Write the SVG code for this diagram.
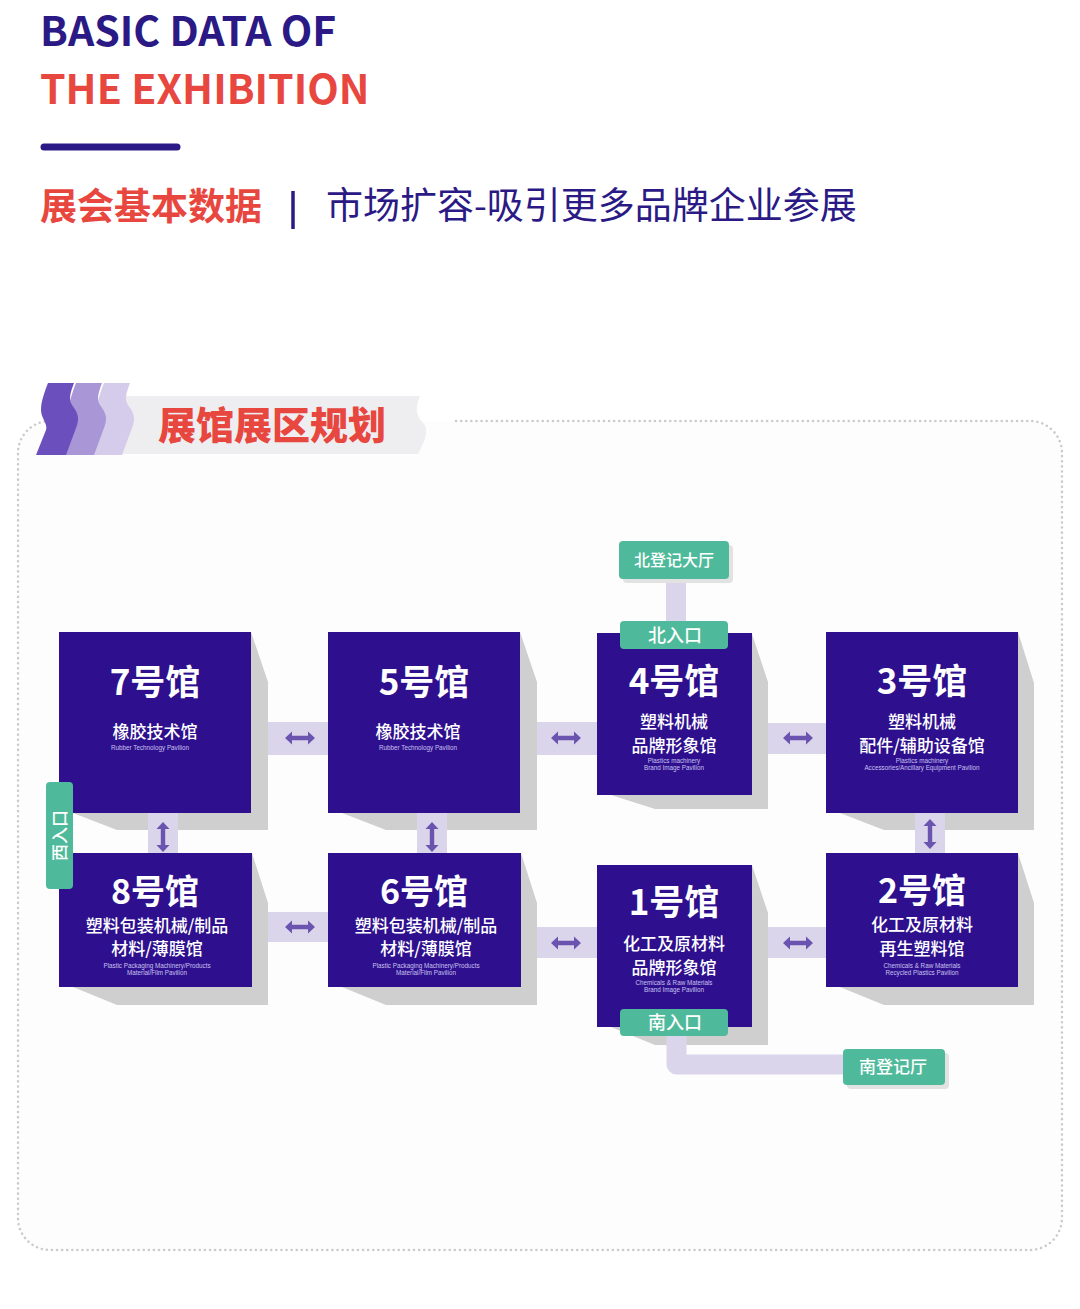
<svg xmlns="http://www.w3.org/2000/svg" width="1080" height="1309" viewBox="0 0 1080 1309">
<defs>
<style>
.cjk{font-family:"Noto Sans CJK SC","Noto Sans",sans-serif}
.hall{fill:#2e108e}
.shadow{fill:#cfcfcf}
.band{fill:#dbd5eb}
.teal{fill:#4fba9b}
.tshadow{fill:#e2e2e2}
.title{font-family:"Noto Sans CJK SC",sans-serif;font-weight:700;font-size:35px;fill:#ffffff;text-anchor:middle}
.title2{font-family:"Noto Sans CJK SC",sans-serif;font-weight:700;font-size:34px;fill:#ffffff;text-anchor:middle}
.sub{font-family:"Noto Sans CJK SC",sans-serif;font-weight:500;font-size:17px;fill:#ffffff;text-anchor:middle}
.en{font-family:"Liberation Sans",Arial,sans-serif;font-size:6.3px;fill:#c9c0ef;text-anchor:middle}
.lbl{font-family:"Noto Sans CJK SC",sans-serif;font-weight:500;fill:#ffffff;text-anchor:middle}
</style>
<path id="arr" d="M-15 0 L-8 -6.5 L-8 -2.2 L8 -2.2 L8 -6.5 L15 0 L8 6.5 L8 2.2 L-8 2.2 L-8 6.5 Z" fill="#6a54b0"/>
<path id="sshape" d="M12 0 H38 C35 8 32 16 36 22 C42 30 44 35 40 45 L30 72 H0 L10 47 C12 41 5 35 5 27 C5 18 9 8 12 0 Z"/>
</defs>

<rect width="1080" height="1309" fill="#ffffff"/>

<!-- header -->
<g id="header">
<text x="40" y="46" class="cjk" font-weight="700" font-size="41" fill="#2b1a85">BASIC DATA OF</text>
<text x="40" y="104" class="cjk" font-weight="700" font-size="41" fill="#e8473f">THE EXHIBITION</text>
<line x1="44" y1="147" x2="177" y2="147" stroke="#2b1a85" stroke-width="7" stroke-linecap="round"/>
<text x="40" y="220" class="cjk" font-weight="700" font-size="37" fill="#e8473f">展会基本数据</text>
<line x1="293" y1="191" x2="293" y2="229" stroke="#2b1a85" stroke-width="3.5"/>
<text x="326" y="219" class="cjk" font-weight="400" font-size="37" fill="#2b1a85">市场扩容-吸引更多品牌企业参展</text>
</g>

<!-- frame -->
<g id="frame">
<rect x="18" y="421" width="1044" height="829" rx="32" fill="#fdfdfd"/>
<path d="M456 421 H1030 A32 32 0 0 1 1062 453 V1218 A32 32 0 0 1 1030 1250 H50 A32 32 0 0 1 18 1218 V453 A32 32 0 0 1 50 421" fill="none" stroke="#cbcbcb" stroke-width="2.5" stroke-dasharray="0.1 5" stroke-linecap="round"/>
</g>

<!-- section banner -->
<g id="banner">
<path d="M100 396 H420 C416 406 414 414 424 424 C430 432 422 446 418 454 H100 Z" fill="#eeeef0"/>
<use href="#sshape" x="92" y="383" fill="#d5cceb"/>
<use href="#sshape" x="64" y="383" fill="#a896d6"/>
<use href="#sshape" x="36" y="383" fill="#6b4fbd"/>
<text x="158" y="439" class="cjk" font-weight="900" font-size="38" fill="#e8473f">展馆展区规划</text>
</g>

<!-- halls -->
<g id="hall7">
<polygon class="shadow" points="251,632 268,682 268,830 117,830 73,813 59,813 59,632"/>
<rect class="hall" x="59" y="632" width="192" height="181"/>
<text class="title" x="155" y="695">7号馆</text>
<text class="sub" x="155" y="738">橡胶技术馆</text>
<text class="en" x="150" y="749.5">Rubber Technology Pavilion</text>
</g>
<g id="hall5">
<polygon class="shadow" points="520,632 537,682 537,830 386,830 342,813 328,813 328,632"/>
<rect class="hall" x="328" y="632" width="192" height="181"/>
<text class="title" x="424" y="695">5号馆</text>
<text class="sub" x="418" y="738">橡胶技术馆</text>
<text class="en" x="418" y="749.5">Rubber Technology Pavilion</text>
</g>
<g id="hall4">
<polygon class="shadow" points="752,634 768,682 768,809 655,809 611,795 597,795 597,634"/>
<rect class="hall" x="597" y="633" width="155" height="162"/>
<text class="title" x="674" y="694">4号馆</text>
<text class="sub" x="674" y="728">塑料机械</text>
<text class="sub" x="674" y="752">品牌形象馆</text>
<text class="en" x="674" y="763">Plastics machinery</text>
<text class="en" x="674" y="770">Brand Image Pavilion</text>
</g>
<g id="hall3">
<polygon class="shadow" points="1018,632 1034,683 1034,830 884,830 840,813 826,813 826,632"/>
<rect class="hall" x="826" y="632" width="192" height="181"/>
<text class="title" x="922" y="694">3号馆</text>
<text class="sub" x="922" y="728">塑料机械</text>
<text class="sub" x="922" y="752">配件/辅助设备馆</text>
<text class="en" x="922" y="763">Plastics machinery</text>
<text class="en" x="922" y="770">Accessories/Ancillary Equipment Pavilion</text>
</g>
<g id="hall8">
<polygon class="shadow" points="252,853 268,903 268,1005 117,1005 73,987 59,987 59,853"/>
<rect class="hall" x="59" y="853" width="193" height="134"/>
<text class="title2" x="155" y="904">8号馆</text>
<text class="sub" x="157" y="932">塑料包装机械/制品</text>
<text class="sub" x="157" y="955">材料/薄膜馆</text>
<text class="en" x="157" y="968">Plastic Packaging Machinery/Products</text>
<text class="en" x="157" y="975">Material/Film Pavilion</text>
</g>
<g id="hall6">
<polygon class="shadow" points="521,853 537,903 537,1005 386,1005 342,987 328,987 328,853"/>
<rect class="hall" x="328" y="853" width="193" height="134"/>
<text class="title2" x="424" y="904">6号馆</text>
<text class="sub" x="426" y="932">塑料包装机械/制品</text>
<text class="sub" x="426" y="955">材料/薄膜馆</text>
<text class="en" x="426" y="968">Plastic Packaging Machinery/Products</text>
<text class="en" x="426" y="975">Material/Film Pavilion</text>
</g>
<g id="hall1">
<polygon class="shadow" points="752,865 768,913 768,1045 655,1045 611,1027 597,1027 597,865"/>
<rect class="hall" x="597" y="865" width="155" height="162"/>
<text class="title" x="674" y="915">1号馆</text>
<text class="sub" x="674" y="950">化工及原材料</text>
<text class="sub" x="674" y="974">品牌形象馆</text>
<text class="en" x="674" y="985">Chemicals &amp; Raw Materials</text>
<text class="en" x="674" y="992">Brand Image Pavilion</text>
</g>
<g id="hall2">
<polygon class="shadow" points="1018,853 1034,903 1034,1005 884,1005 840,987 826,987 826,853"/>
<rect class="hall" x="826" y="853" width="192" height="134"/>
<text class="title2" x="922" y="903">2号馆</text>
<text class="sub" x="922" y="931">化工及原材料</text>
<text class="sub" x="922" y="955">再生塑料馆</text>
<text class="en" x="922" y="967.5">Chemicals &amp; Raw Materials</text>
<text class="en" x="922" y="974.5">Recycled Plastics Pavilion</text>
</g>

<!-- connectors -->
<g id="connectors">
<rect class="band" x="268" y="722" width="60" height="33"/>
<rect class="band" x="537" y="722" width="60" height="33"/>
<rect class="band" x="768" y="723" width="58" height="31"/>
<rect class="band" x="148" y="813" width="30" height="40"/>
<rect class="band" x="417" y="813" width="30" height="40"/>
<rect class="band" x="915" y="813" width="30" height="40"/>
<rect class="band" x="268" y="912" width="60" height="30"/>
<rect class="band" x="537" y="927" width="60" height="31"/>
<rect class="band" x="768" y="927" width="58" height="31"/>
<rect class="band" x="666" y="578" width="20" height="45"/>
<path d="M676.5 1030 V1064.5 H850" fill="none" stroke="#dbd5eb" stroke-width="20" stroke-linejoin="round"/>
<use href="#arr" transform="translate(300 738)"/>
<use href="#arr" transform="translate(566 738)"/>
<use href="#arr" transform="translate(798 738)"/>
<use href="#arr" transform="translate(163 837) rotate(90)"/>
<use href="#arr" transform="translate(432 837) rotate(90)"/>
<use href="#arr" transform="translate(930 834) rotate(90)"/>
<use href="#arr" transform="translate(300 927)"/>
<use href="#arr" transform="translate(566 943)"/>
<use href="#arr" transform="translate(798 943)"/>
</g>

<!-- entrances / registration -->
<g id="north-hall">
<rect class="tshadow" x="623" y="545" width="110" height="38" rx="4"/>
<rect class="teal" x="619" y="541" width="110" height="38" rx="4"/>
<text class="lbl" x="674" y="566" font-size="16">北登记大厅</text>
</g>
<g id="north-entrance">
<rect class="teal" x="620" y="621" width="108" height="28" rx="4"/>
<text class="lbl" x="675" y="642" font-size="18">北入口</text>
</g>
<g id="south-entrance">
<rect class="teal" x="620" y="1009" width="108" height="27" rx="4"/>
<text class="lbl" x="675" y="1029" font-size="18">南入口</text>
</g>
<g id="south-hall">
<rect class="tshadow" x="847" y="1053" width="102" height="36" rx="4"/>
<rect class="teal" x="843" y="1049" width="102" height="36" rx="4"/>
<text class="lbl" x="893" y="1073" font-size="17">南登记厅</text>
</g>
<g id="west-entrance">
<rect class="teal" x="46" y="782" width="27" height="107" rx="4"/>
<text class="lbl" x="0" y="0" font-size="17" transform="translate(65.5 835.5) rotate(-90)">西入口</text>
</g>
</svg>
